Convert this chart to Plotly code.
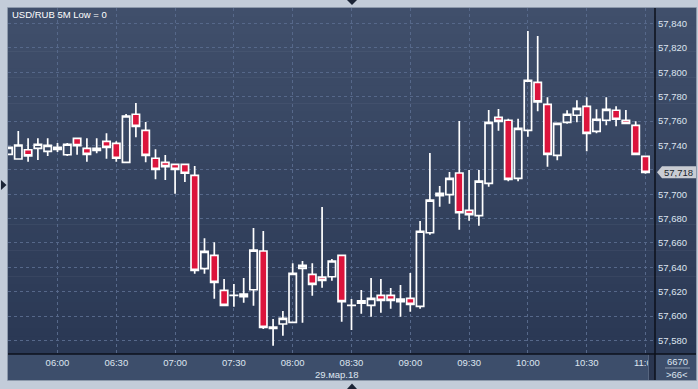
import plotly.graph_objects as go
import pandas as pd

# ---------------- data ----------------
times = pd.date_range("2018-03-29 05:35", periods=66, freq="5min")

opens = [57732.7, 57728.9, 57736.5, 57737.7, 57735.2, 57736.8, 57732.4, 57745.9, 57737.7, 57736.0,
         57743.4, 57741.8, 57726.2, 57765.6, 57752.4, 57729.5, 57726.2, 57724.5, 57724.5, 57715.5,
         57638.9, 57649.9, 57621.1, 57616.9, 57615.9, 57621.6, 57653.4, 57589.9, 57593.5, 57594.9,
         57639.2, 57634.3, 57632.0, 57632.3, 57649.9, 57608.7, 57610.7, 57608.8, 57617.0, 57617.0,
         57614.0, 57614.6, 57608.0, 57668.4, 57700.7, 57699.6, 57717.4, 57686.8, 57682.4, 57708.9,
         57763.1, 57760.7, 57713.0, 57752.4, 57791.8, 57773.8, 57731.9, 57759.0, 57764.8, 57772.1,
         57751.6, 57760.7, 57768.9, 57760.7, 57756.5, 57731.1]
highs = [57738.5, 57751.9, 57745.9, 57745.9, 57745.9, 57742.0, 57742.0, 57746.5, 57745.9, 57745.9,
         57750.0, 57743.4, 57765.8, 57774.8, 57759.3, 57736.8, 57732.2, 57724.5, 57724.5, 57723.1,
         57663.8, 57660.5, 57630.4, 57626.3, 57631.2, 57672.3, 57669.8, 57597.6, 57604.1, 57643.3,
         57645.2, 57643.3, 57689.5, 57646.8, 57649.9, 57614.0, 57621.4, 57631.2, 57630.4, 57623.0,
         57625.5, 57635.3, 57678.0, 57733.8, 57706.7, 57718.2, 57760.1, 57719.9, 57719.9, 57769.1,
         57769.9, 57762.0, 57762.0, 57833.9, 57829.8, 57779.5, 57758.2, 57768.9, 57777.1, 57779.5,
         57769.7, 57779.5, 57772.1, 57769.1, 57759.8, 57731.1]
lows = [57732.7, 57728.9, 57726.7, 57728.1, 57731.4, 57734.6, 57731.4, 57732.4, 57726.7, 57733.6,
        57729.1, 57726.7, 57726.2, 57746.7, 57726.2, 57712.2, 57711.7, 57700.4, 57710.0, 57634.8,
        57634.8, 57614.2, 57608.8, 57607.7, 57611.0, 57608.5, 57589.4, 57575.7, 57583.9, 57594.9,
        57594.5, 57616.7, 57623.3, 57629.0, 57595.4, 57588.5, 57601.9, 57599.5, 57602.7, 57606.0,
        57599.5, 57603.6, 57606.0, 57666.8, 57689.7, 57692.2, 57670.9, 57678.3, 57674.1, 57706.2,
        57752.1, 57710.6, 57710.6, 57747.2, 57768.0, 57722.6, 57727.8, 57757.9, 57759.0, 57735.2,
        57750.0, 57756.5, 57755.7, 57758.2, 57731.9, 57716.8]
closes = [57738.5, 57740.4, 57731.4, 57741.0, 57740.1, 57738.5, 57741.0, 57739.8, 57732.7, 57737.7,
          57738.5, 57729.5, 57764.2, 57755.7, 57731.9, 57720.4, 57722.7, 57720.4, 57717.2, 57637.5,
          57653.1, 57627.7, 57608.8, 57617.1, 57618.1, 57654.2, 57590.8, 57590.9, 57598.1, 57635.1,
          57641.6, 57626.1, 57629.3, 57645.2, 57611.8, 57608.9, 57612.6, 57614.6, 57612.9, 57612.9,
          57611.8, 57609.6, 57669.6, 57695.2, 57698.8, 57713.0, 57684.8, 57683.2, 57710.8, 57759.0,
          57759.8, 57712.2, 57754.1, 57793.5, 57775.7, 57732.7, 57758.2, 57765.6, 57770.5, 57750.0,
          57761.5, 57769.7, 57761.5, 57758.2, 57732.7, 57718.0]

# price scale ticks (the 57,720 label is hidden behind the last-price marker)
y_tickvals = [57580, 57600, 57620, 57640, 57660, 57680, 57700, 57720,
              57740, 57760, 57780, 57800, 57820, 57840]
y_ticktext = ["57,580", "57,600", "57,620", "57,640", "57,660", "57,680", "57,700", "",
              "57,740", "57,760", "57,780", "57,800", "57,820", "57,840"]

title_text = "USD/RUB 5M Low = 0"
date_label = "29.мар.18"
count_top = "6670"
count_bottom = ">66<"

# ---------------- geometry helpers (pixels -> paper) ----------------
W, H = 698, 389
L, R, T, B = 8, 655, 8, 354


def px(x):
    return (x - L) / (R - L)


def py(y):
    return (B - y) / (B - T)


FONT = "Liberation Sans, Arial, sans-serif"
TXT = "#dde5f0"
RED = "#dc143c"

fig = go.Figure()
fig.add_trace(go.Candlestick(
    x=times, open=opens, high=highs, low=lows, close=closes,
    increasing=dict(line=dict(color="white", width=1.7), fillcolor="rgba(0,0,0,0)"),
    decreasing=dict(line=dict(color="white", width=1.7), fillcolor=RED),
    whiskerwidth=0, hoverinfo="skip", showlegend=False,
))

shapes = []
# gradient background of plot + right scale panel
N = 40
c0 = (64, 79, 107)
c1 = (42, 56, 84)
for i in range(N):
    f = i / (N - 1)
    col = tuple(int(round(c0[j] + (c1[j] - c0[j]) * f)) for j in range(3))
    y0 = T + (B - T) * i / N
    y1 = T + (B - T) * (i + 1) / N + 0.6
    shapes.append(dict(type="rect", xref="paper", yref="paper", layer="below",
                       x0=px(L), x1=px(696), y0=py(y1), y1=py(y0),
                       line=dict(width=0), fillcolor="rgb(%d,%d,%d)" % col))
# bottom time panel
shapes.append(dict(type="rect", xref="paper", yref="paper", layer="below",
                   x0=px(L), x1=px(696), y0=py(380), y1=py(B),
                   line=dict(width=0), fillcolor="#3d4e6b"))
# frame border
shapes.append(dict(type="rect", xref="paper", yref="paper", layer="below",
                   x0=px(7.5), x1=px(696.5), y0=py(380.5), y1=py(7.5),
                   line=dict(width=1, color="#8d99ab"), fillcolor="rgba(0,0,0,0)"))
# cover of the clipped last time label
shapes.append(dict(type="rect", xref="paper", yref="paper", layer="above",
                   x0=px(655), x1=px(696), y0=py(380), y1=py(354.5),
                   line=dict(width=0), fillcolor="#3d4e6b"))
shapes.append(dict(type="rect", xref="paper", yref="paper", layer="above",
                   x0=px(648), x1=px(655), y0=py(380), y1=py(354.5),
                   line=dict(width=0), fillcolor="#2a3650"))
shapes.append(dict(type="line", xref="paper", yref="paper", layer="above",
                   x0=px(648.5), x1=px(648.5), y0=py(380), y1=py(354.5),
                   line=dict(width=1, color="#56657f")))
# separator lines
shapes.append(dict(type="line", xref="paper", yref="paper", layer="above",
                   x0=px(655), x1=px(655), y0=py(380), y1=py(T),
                   line=dict(width=1.5, color="#0c111b")))
shapes.append(dict(type="line", xref="paper", yref="paper", layer="above",
                   x0=px(L), x1=px(696), y0=py(354), y1=py(354),
                   line=dict(width=1.5, color="#0c111b")))
# small line between the counters
shapes.append(dict(type="line", xref="paper", yref="paper", layer="above",
                   x0=px(665), x1=px(690), y0=py(368), y1=py(368),
                   line=dict(width=1, color="#8c9ab0")))
# last price marker box
last = closes[-1]
d = 4.9
shapes.append(dict(type="path", xref="paper", yref="y", layer="above",
                   path="M %f,%f L %f,%f L %f,%f L %f,%f L %f,%f Z" % (
                       px(657), last, px(662), last + d, px(696), last + d,
                       px(696), last - d, px(662), last - d),
                   line=dict(width=0), fillcolor="#c9ccd3"))
# navigation triangles
shapes.append(dict(type="path", xref="paper", yref="paper", layer="above",
                   path="M %f,%f L %f,%f L %f,%f Z" % (px(1), py(180), px(6.5), py(185), px(1), py(190)),
                   line=dict(width=0), fillcolor="#1b2436"))
shapes.append(dict(type="path", xref="paper", yref="paper", layer="above",
                   path="M %f,%f L %f,%f L %f,%f Z" % (px(347), py(0), px(357), py(0), px(352), py(5)),
                   line=dict(width=0), fillcolor="#1b2436"))
shapes.append(dict(type="path", xref="paper", yref="paper", layer="above",
                   path="M %f,%f L %f,%f L %f,%f Z" % (px(347), py(389), px(357), py(389), px(352), py(383.5)),
                   line=dict(width=0), fillcolor="#1b2436"))

annotations = [
    dict(text=title_text, xref="paper", yref="paper", x=px(10), y=py(14), xanchor="left",
         yanchor="middle", showarrow=False, font=dict(family=FONT, size=9.5, color="#ffffff")),
    dict(text=date_label, xref="paper", yref="paper", x=px(337), y=py(374), xanchor="center",
         yanchor="middle", showarrow=False, font=dict(family=FONT, size=9.5, color=TXT)),
    dict(text=count_top, xref="paper", yref="paper", x=px(677), y=py(361), xanchor="center",
         yanchor="middle", showarrow=False, font=dict(family=FONT, size=9.5, color=TXT)),
    dict(text=count_bottom, xref="paper", yref="paper", x=px(677), y=py(374), xanchor="center",
         yanchor="middle", showarrow=False, font=dict(family=FONT, size=9.5, color=TXT)),
    dict(text=f"{last:,.0f}", xref="paper", yref="y", x=px(662), y=last, xanchor="left",
         yanchor="middle", showarrow=False, font=dict(family=FONT, size=9.5, color="#1a1f2a")),
]

fig.update_layout(
    width=W, height=H,
    margin=dict(l=L, r=W - R, t=T, b=H - B, pad=0),
    paper_bgcolor="#c3ccd9",
    plot_bgcolor="rgba(0,0,0,0)",
    boxgap=0.25, boxgroupgap=0,
    shapes=shapes, annotations=annotations,
    showlegend=False,
    xaxis=dict(
        type="date",
        range=["2018-03-29 05:34:45", "2018-03-29 11:04:51"],
        rangeslider=dict(visible=False),
        tick0="2018-03-29 06:00", dtick=30 * 60 * 1000, tickformat="%H:%M",
        showgrid=True, gridcolor="#56688a", griddash="3px,3px", gridwidth=1,
        zeroline=False, showline=False, ticks="",
        tickfont=dict(family=FONT, size=9.5, color=TXT),
        ticklabelstandoff=1,
    ),
    yaxis=dict(
        side="right",
        range=[57568.9, 57852.8],
        tickmode="array", tickvals=y_tickvals, ticktext=y_ticktext,
        showgrid=True, gridcolor="#56688a", griddash="3px,3px", gridwidth=1,
        zeroline=False, showline=False, ticks="",
        tickfont=dict(family=FONT, size=9.5, color=TXT),
        ticklabelstandoff=2,
    ),
)

fig.write_html("out.html")
